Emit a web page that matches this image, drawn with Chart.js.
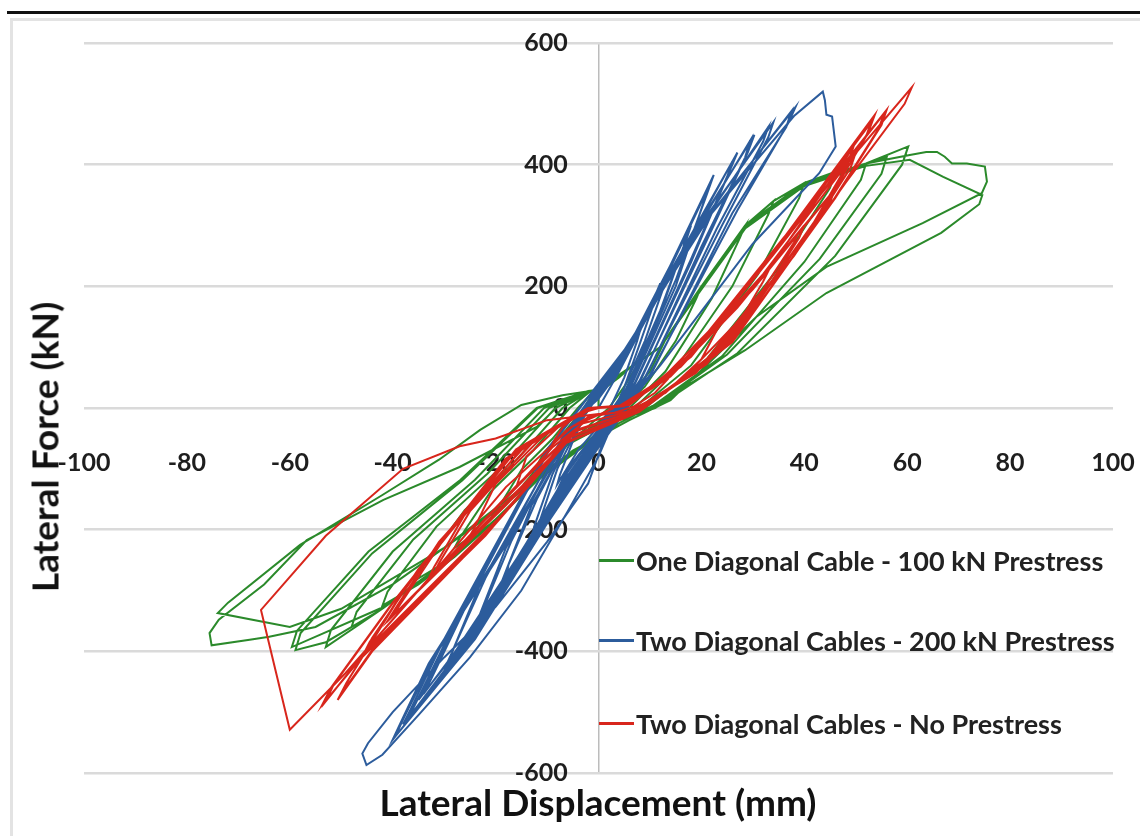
<!DOCTYPE html>
<html>
<head>
<meta charset="utf-8">
<script src="https://cdn.jsdelivr.net/npm/chart.js@4.4.0/dist/chart.umd.min.js"></script>
<style>
  body { margin: 0; background: #fff; }
  #wrap { position: relative; width: 1140px; height: 836px; overflow: hidden; }
  #topline { position: absolute; left: 7px; top: 11px; right: 0; height: 3px; background: #111; }
  #frame { position: absolute; left: 10px; top: 18px; width: 1200px; height: 900px;
           border-left: 3px solid #e3e3e3; border-top: 3px solid #e3e3e3; }
  canvas { position: absolute; left: 0; top: 0; }
  .axtitle { position: absolute; font-family: Lato, sans-serif; font-weight: bold; font-size: 37px;
             line-height: 37px; color: #111; white-space: nowrap; }
  #ytitle { left: 44px; top: 447px; transform: translate(-50%, -50%) rotate(-90deg); }
  #xtitle { left: 598px; top: 783px; transform: translateX(-50%); }
  #legend { position: absolute; left: 599px; top: 0; font-family: Lato, sans-serif;
            font-weight: bold; font-size: 27px; color: #222; }
  .item { position: absolute; left: 0; height: 32px; white-space: nowrap; display: flex; align-items: center; }
  .swatch { width: 35px; height: 3px; margin-right: 2px; }
</style>
</head>
<body>
<div id="wrap">
  <div id="topline"></div>
  <div id="frame"></div>
  <canvas id="chart" width="1140" height="836"></canvas>
  <div class="axtitle" id="ytitle">Lateral Force (kN)</div>
  <div class="axtitle" id="xtitle">Lateral Displacement (mm)</div>
  <div id="legend"></div>
</div>
<script>
// tick values
const xTicks = [-100, -80, -60, -40, -20, 0, 20, 40, 60, 80, 100];
const yTicks = [-600, -400, -200, 0, 200, 400, 600];

const seriesNames = [
  'One Diagonal Cable - 100 kN Prestress',
  'Two Diagonal Cables - 200 kN Prestress',
  'Two Diagonal Cables - No Prestress'
];
const seriesColors = ['#2b8a2b', '#2c5c9c', '#d8261c'];

const greenData = [
  [0,0],[0,25],[4,50],[8,80],[7.5,70],[5,35],[2,0],[0,-15],[-6,-60],[-8,-70],[-7.2,-63],[-6,-42],[-3.6,-21],[-1.6,0],[-1,25],
  [0,30],[6,65],[12,100],[14,125],[13,112],[10,60],[5,10],[2,-10],[-6,-60],[-12,-110],[-14,-120],[-13,-110],[-10.5,-72],[-6.3,-36],[-2.8,0],[-1,26],
  [0,30],[6,65],[12,100],[16,150],[20,200],[19,180],[15,110],[9,35],[4,-5],[1,-20],[-6,-60],[-12,-115],[-20,-170],[-19,-158],[-15,-102],[-9,-51],[-4,0],[-1,27],
  [0,30],[6,65],[12,100],[20,200],[28.5,300],[27.5,280],[22,180],[13,60],[6,0],[2,-20],[-6,-60],[-12,-120],[-20,-185],[-28,-230],[-27,-214],[-21,-138],[-12.6,-69],[-5.6,0],[-1.5,28],
  [0,30],[6,65],[12,100],[20,200],[28.5,300],[34,340],[33,318],[26,200],[15,65],[7,0],[2,-20],[-6,-60],[-12,-120],[-20,-185],[-28,-245],[-35,-280],[-34,-260],[-26,-168],[-15.8,-84],[-7,0],[-1.5,28],
  [0,30],[12,100],[20,200],[28.5,300],[34,340],[40,370],[39,345],[31,220],[18,70],[8,0],[3,-20],[-6,-60],[-12,-120],[-20,-185],[-28,-245],[-35,-290],[-42,-325],[-41,-302],[-31.5,-195],[-19,-98],[-8.4,0],[-1.5,28],
  [0,30],[12,100],[20,200],[28.5,300],[40,370],[46,388],[45,362],[35,230],[21,80],[9,0],[3,-20],[-12,-120],[-20,-185],[-28,-245],[-42,-330],[-48,-360],[-47,-335],[-36,-216],[-21.6,-108],[-9.6,0],[-2,28],
  [0,30],[12,100],[20,200],[28.5,300],[40,370],[52,402],[51,375],[40,240],[24,85],[10,0],[3,-20],[-12,-120],[-20,-185],[-28,-245],[-42,-330],[-53,-393],[-52,-365],[-40,-236],[-24,-118],[-10.6,0],[-2,28],
  [0,30],[12,100],[20,200],[28.5,300],[40,370],[52,402],[60.2,430],[59,400],[46,250],[27,90],[11,0],[4,-20],[-12,-120],[-20,-185],[-28,-245],[-42,-330],[-53,-385],[-58.9,-398],[-57.9,-370],[-44,-239],[-26.5,-119],[-11.8,0],[-2,28],
  [0,30],[12,100],[20,198],[28.5,298],[40,368],[56,412],[55,385],[43,245],[25,88],[10.5,0],[4,-20],[-12,-118],[-20,-183],[-28,-243],[-42,-328],[-59.6,-393],[-58.6,-366],[-44.7,-236],[-26.8,-118],[-12,0],[-2,28],
  [0,30],[12,100],[20,200],[28.5,300],[40,370],[52,402],[60.5,416],[63.7,421],[65.8,421],[67.3,413],[68.7,402],[71.6,402],[75.1,397],[75.5,372],[74.5,353],
  [63,304],[44.3,232],[30.7,150],[14,13],[6,-20],[-5,-70],[-20,-170],[-40,-290],[-55,-360],[-64,-376],[-67.8,-381],[-75.2,-390],
  [-75.6,-370],[-73.8,-348],[-65,-290],[-56.7,-217],[-41.8,-151],[-27,-97],[-12,-31],[-8,2],[-2,25],
  [0,32],[12,100],[20,195],[28.5,295],[40,365],[52,398],[60.5,408],[67,380],[74.6,350],[74,335],[66.6,288],[44.3,189],[28.5,95],[12,10],[4,-25],
  [-10,-100],[-30,-230],[-50,-330],[-60,-360],[-74,-337],[-72,-320],[-58,-225],[-42,-143],[-31,-85],[-23,-36],[-15,5],[-7,21],[0,30]
];

const blueData = [
  [0,0],[4,60],[8,125],[7.5,110],[5,50],[2,-5],[0,-30],[-4,-70],[-8,-125],[-7.5,-110],[-5,-55],[-2,0],[0,15],
  [3,50],[8,130],[13,215],[12.5,195],[9,110],[4,15],[0,-35],[-6,-105],[-13,-215],[-12.5,-195],[-9,-110],[-4,-20],[0,20],
  [3,50],[8,125],[12,205],[11.5,190],[8,105],[4,10],[0,-35],[-6,-100],[-12,-205],[-11.5,-188],[-8,-100],[-3,-15],[0,20],
  [3,55],[10,170],[18,300],[17,275],[12,160],[5,25],[0,-40],[-8,-140],[-19,-290],[-18,-268],[-13,-160],[-4,-25],[0,25],
  [3,55],[10,165],[17,285],[16.5,265],[12,155],[5,20],[0,-40],[-8,-135],[-18,-280],[-17.5,-258],[-12,-150],[-4,-22],[0,25],
  [4,65],[12,200],[22.4,383],[21,350],[15,210],[6,35],[0,-45],[-10,-175],[-24,-360],[-23,-338],[-18,-230],[-6,-40],[0,30],
  [4,65],[12,195],[21.5,365],[20.5,340],[15,200],[6,30],[0,-45],[-10,-170],[-23,-345],[-22,-322],[-17,-220],[-6,-38],[0,30],
  [4,70],[14,225],[27,420],[25.5,390],[18,245],[7,40],[0,-50],[-11,-190],[-30,-430],[-28.5,-402],[-23,-290],[-7,-50],[0,35],
  [4,70],[14,220],[26,405],[25,380],[18,240],[7,38],[0,-50],[-11,-185],[-29,-415],[-28,-392],[-22,-280],[-7,-48],[0,35],
  [5,80],[16,255],[30.3,449],[29,420],[21,275],[8,45],[0,-55],[-12,-205],[-22,-340],[-35,-480],[-33.5,-455],[-27,-340],[-9,-60],[0,40],
  [5,80],[16,250],[29.5,440],[28.5,412],[20,265],[8,42],[0,-55],[-12,-200],[-22,-335],[-34,-470],[-32.5,-445],[-26,-330],[-9,-58],[0,40],
  [5,85],[18,280],[34,470],[33,445],[24,300],[9,50],[0,-60],[-12,-210],[-24,-370],[-38,-520],[-36.5,-495],[-30,-380],[-10,-70],[0,40],
  [5,85],[18,275],[33,462],[32,438],[23,295],[9,48],[0,-60],[-12,-205],[-24,-365],[-37,-510],[-35.5,-485],[-29,-372],[-10,-68],[0,40],
  [5,90],[20,300],[38.3,495],[37,470],[27,325],[10,55],[0,-65],[-10,-190],[-24,-380],[-40,-545],[-38.5,-518],[-33,-420],[-18,-220],[-6,-50],[0,40],
  [5,90],[20,298],[37.5,488],[36.5,462],[26,320],[10,52],[0,-65],[-10,-188],[-24,-375],[-39.5,-540],[-38,-512],[-32,-410],[-17,-212],[-6,-48],[0,40],
  [5,95],[22,320],[38,480],[43.6,520],[44,506],[44.3,482],[45.4,479],[46.1,430],[42.9,386],[30,270],[12,70],[3,-20],
  [0,-80],[-6,-170],[-15,-300],[-25,-410],[-35,-505],[-42,-570],[-45.1,-587],[-45.9,-568],[-44.8,-551],[-40,-500],
  [-30,-410],[-20,-327],[-10,-220],[-2,-124],[2,-30],[4,0]
];

const redData = [
  [0,0],[5,5],[9,25],[14,55],[13.5,48],[11,25],[7,3],[3,-8],[-2,-15],[-6,-35],[-9,-60],[-8.5,-52],[-7,-32],[-4,-10],[0,0],
  [4,2],[10,30],[17,80],[24,140],[23,128],[20,80],[13,25],[5,-8],[-3,-25],[-9,-65],[-16,-130],[-15.5,-118],[-14,-80],[-7,-25],[-1,0],
  [4,3],[12,45],[23,140],[33,225],[32,208],[28,150],[16,45],[6,-8],[-4,-35],[-13,-105],[-25,-210],[-24,-195],[-20,-125],[-10,-40],[-1,0],
  [5,3],[14,55],[27,170],[40,300],[39,280],[33,200],[19,60],[6,-8],[-5,-40],[-16,-130],[-33,-280],[-32,-262],[-26,-175],[-12,-50],[-1,0],
  [5,3],[14,52],[27,165],[39,290],[38,272],[32,195],[19,58],[6,-8],[-5,-40],[-16,-128],[-32,-272],[-31,-255],[-25,-170],[-12,-48],[-1,0],
  [5,4],[15,65],[30,200],[46,360],[45,338],[38,250],[21,75],[7,-8],[-5,-45],[-18,-160],[-41,-350],[-39.5,-330],[-31,-220],[-14,-60],[-1,0],
  [5,4],[15,62],[30,195],[45,350],[44,330],[37,245],[21,72],[7,-8],[-5,-45],[-18,-155],[-40,-342],[-38.5,-322],[-30,-215],[-14,-58],[-1,0],
  [5,4],[16,70],[32,220],[50,420],[49,395],[41,290],[23,90],[7,-8],[-6,-50],[-19,-180],[-46,-410],[-44.5,-385],[-35,-265],[-16,-70],[-2,0],
  [5,4],[16,68],[32,215],[49.5,428],[48.5,402],[40.5,285],[23,88],[7,-8],[-6,-50],[-19,-178],[-45.5,-402],[-44,-378],[-34.5,-260],[-16,-68],[-2,0],
  [6,5],[17,80],[33,245],[53.7,482],[52.5,455],[44,330],[25,105],[8,-6],[-6,-55],[-21,-200],[-44,-400],[-50.7,-480],[-49,-452],[-38,-300],[-17,-80],[-2,0],
  [6,5],[17,78],[33,242],[53,470],[52,446],[43.5,325],[25,102],[8,-6],[-6,-55],[-21,-198],[-44,-398],[-50,-470],[-48.5,-445],[-37.5,-295],[-17,-78],[-2,0],
  [6,5],[18,85],[34,255],[56,490],[55,465],[46,345],[26,110],[8,-6],[-7,-60],[-22,-210],[-46,-410],[-53.7,-488],[-52,-460],[-40,-320],[-18,-85],[-2,0],
  [6,5],[18,84],[34,252],[55.5,484],[54.5,460],[45.5,340],[26,108],[8,-6],[-7,-60],[-22,-208],[-46,-408],[-53,-482],[-51.5,-455],[-39.5,-315],[-18,-83],[-2,0],
  [6,5],[18,90],[36,280],[60.9,527],[59.5,500],[48,370],[27,120],[8,-5],[0,-10],[-10,-20],[-20,-50],[-27,-63],[-38,-100],
  [-53,-210],[-65.6,-332],[-60,-529],[-49.2,-436],[-35,-300],[-18,-130],[-5,-30],[3,0]
];

const allData = [greenData, blueData, redData];
const tickFont = { family: 'Lato', size: 25, weight: 'bold' };

const datasets = allData.map((d, i) => ({
  label: seriesNames[i],
  data: d.map(p => ({ x: p[0], y: p[1] })),
  showLine: true,
  borderColor: seriesColors[i],
  backgroundColor: seriesColors[i],
  borderWidth: 2,
  pointRadius: 0,
  tension: 0,
  order: 2 - i   // red drawn on top, like the original
}));

const ctx = document.getElementById('chart').getContext('2d');
const chart = new Chart(ctx, {
  type: 'scatter',
  data: { datasets: datasets },
  options: {
    responsive: false,
    animation: false,
    devicePixelRatio: 1,
    layout: { padding: { left: 84, right: 27, top: 43, bottom: 63 } },
    plugins: {
      legend: { display: false },
      tooltip: { enabled: false }
    },
    scales: {
      x: {
        type: 'linear', min: -100, max: 100,
        // labels sit a little below the zero line, as in the original
        position: { y: -65 },
        afterBuildTicks: axis => { axis.ticks = xTicks.map(v => ({ value: v })); },
        grid: {
          drawTicks: false, lineWidth: 1.5,
          color: c => (c.tick && c.tick.value === 0) ? '#bcbcbc' : 'rgba(0,0,0,0)'
        },
        border: { display: false },
        ticks: { padding: 0, autoSkip: false, maxRotation: 0, font: tickFont, color: '#1e1e1e' }
      },
      y: {
        type: 'linear', min: -600, max: 600,
        position: { x: -6 },
        afterBuildTicks: axis => { axis.ticks = yTicks.map(v => ({ value: v })); },
        grid: { drawTicks: false, lineWidth: 2.5, color: '#dadada' },
        border: { display: false },
        ticks: { padding: 0, autoSkip: false, font: tickFont, color: '#1e1e1e' }
      }
    }
  }
});

// legend placed inside the plot like the original
const legendTops = [544, 624, 707];
const legend = document.getElementById('legend');
chart.data.datasets.forEach((ds, i) => {
  const item = document.createElement('div');
  item.className = 'item';
  item.style.top = legendTops[i] + 'px';
  const sw = document.createElement('span');
  sw.className = 'swatch';
  sw.style.background = ds.borderColor;
  const txt = document.createElement('span');
  txt.innerText = ds.label;
  item.appendChild(sw);
  item.appendChild(txt);
  legend.appendChild(item);
});
</script>
</body>
</html>
